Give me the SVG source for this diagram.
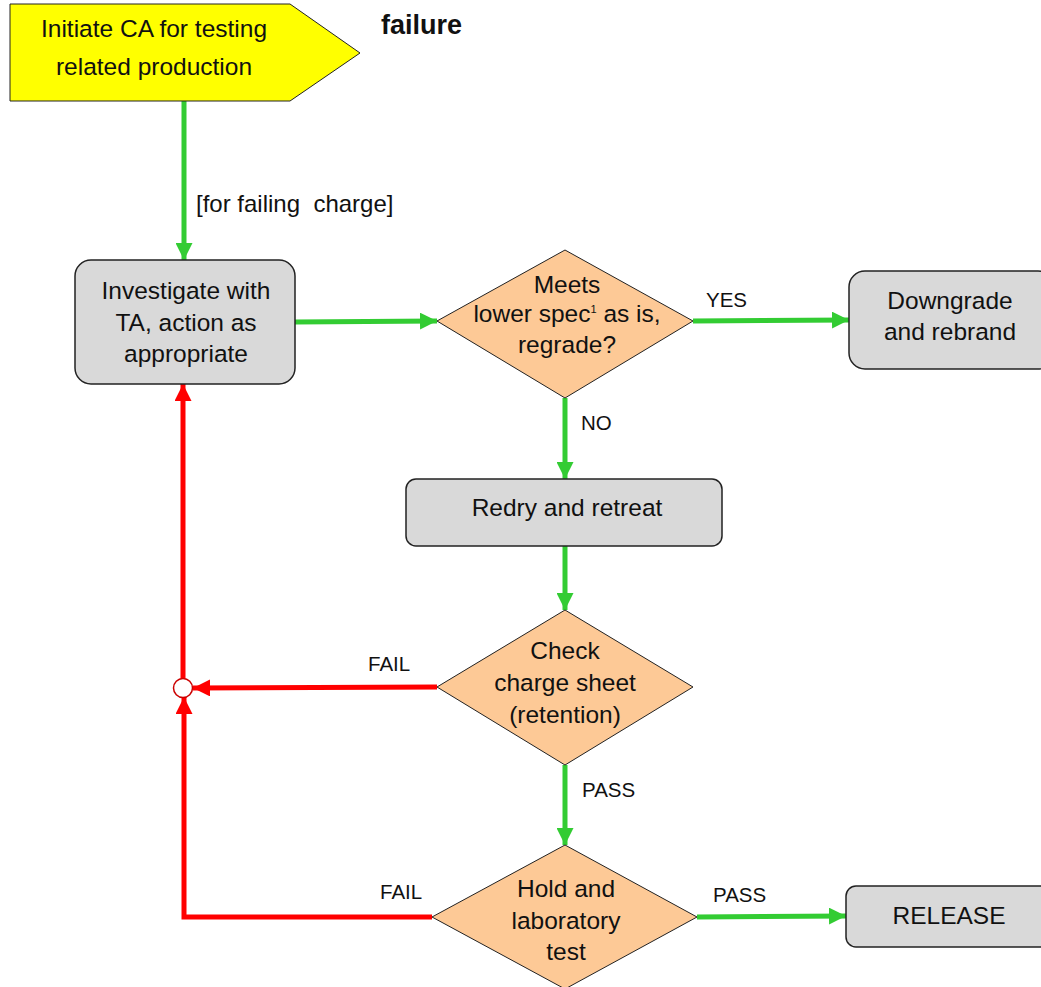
<svg xmlns="http://www.w3.org/2000/svg" width="1041" height="987" viewBox="0 0 1041 987">
  <style>
    .t { font-family: "Liberation Sans", Arial, sans-serif; font-size: 24.5px; fill: #111; text-anchor: middle; }
    .lbl { font-family: "Liberation Sans", Arial, sans-serif; font-size: 20.5px; fill: #111; }
    .box { fill: #d9d9d9; stroke: #222; stroke-width: 1.5; }
    .dia { fill: #fdc996; stroke: #222; stroke-width: 1; }
    .go { fill: none; stroke: #33cc33; stroke-width: 5; }
    .back { fill: none; stroke: #ff0000; stroke-width: 5; }
  </style>
  <defs>
    <marker id="ag" viewBox="0 0 10 10" refX="10" refY="5" markerWidth="3.4" markerHeight="3.4" orient="auto" markerUnits="strokeWidth">
      <path d="M0,0 L10,5 L0,10 z" fill="#33cc33"/>
    </marker>
    <marker id="ar" viewBox="0 0 10 10" refX="10" refY="5" markerWidth="3.4" markerHeight="3.4" orient="auto" markerUnits="strokeWidth">
      <path d="M0,0 L10,5 L0,10 z" fill="#ff0000"/>
    </marker>
  </defs>

  <rect width="1041" height="987" fill="#ffffff"/>

  <!-- connectors -->
  <g id="connectors">
    <line class="go" x1="184" y1="101" x2="184" y2="260" marker-end="url(#ag)"/>
    <line class="go" x1="295" y1="322" x2="437" y2="321" marker-end="url(#ag)"/>
    <line class="go" x1="693" y1="321" x2="849" y2="320" marker-end="url(#ag)"/>
    <line class="go" x1="565" y1="398" x2="565" y2="479" marker-end="url(#ag)"/>
    <line class="go" x1="565" y1="546" x2="565" y2="610" marker-end="url(#ag)"/>
    <line class="go" x1="565" y1="765" x2="565" y2="845" marker-end="url(#ag)"/>
    <line class="go" x1="697" y1="917" x2="846" y2="916" marker-end="url(#ag)"/>
    <line class="back" x1="437" y1="687" x2="193" y2="688" marker-end="url(#ar)"/>
    <line class="back" x1="183" y1="679" x2="183" y2="384" marker-end="url(#ar)"/>
    <polyline class="back" points="432,917 184,917 184,697" marker-end="url(#ar)"/>
    <circle cx="183" cy="688" r="9.5" fill="#ffffff" stroke="#cc0000" stroke-width="1.5"/>
    <text class="lbl" x="196" y="212" style="font-size:24px; white-space:pre">[for failing  charge]</text>
    <text class="lbl" x="706" y="307">YES</text>
    <text class="lbl" x="581" y="430">NO</text>
    <text class="lbl" x="368" y="671">FAIL</text>
    <text class="lbl" x="582" y="797">PASS</text>
    <text class="lbl" x="380" y="899">FAIL</text>
    <text class="lbl" x="713" y="902">PASS</text>
  </g>

  <g id="start">
    <polygon points="10,4 290,4 360,53 290,101 10,101" fill="#ffff00" stroke="#222" stroke-width="1"/>
    <text class="t" x="154" y="37">Initiate CA for testing</text>
    <text class="t" x="154" y="75">related production</text>
  </g>
  <text x="381" y="34" style="font-family:'Liberation Sans', Arial, sans-serif; font-size:27px; font-weight:bold; fill:#111">failure</text>

  <g id="investigate">
    <rect class="box" x="75" y="260" width="220" height="124" rx="16"/>
    <text class="t" x="186" y="299">Investigate with</text>
    <text class="t" x="186" y="331">TA, action as</text>
    <text class="t" x="186" y="362">appropriate</text>
  </g>

  <g id="meets-lower-spec">
    <polygon class="dia" points="565,250 693,321 565,398 437,321"/>
    <text class="t" x="567" y="293">Meets</text>
    <text class="t" x="567" y="322">lower spec<tspan dy="-9" style="font-size:11px">1</tspan><tspan dy="9"> as is,</tspan></text>
    <text class="t" x="567" y="353">regrade?</text>
  </g>

  <g id="downgrade">
    <rect class="box" x="849" y="271" width="205" height="98" rx="16"/>
    <text class="t" x="950" y="309">Downgrade</text>
    <text class="t" x="950" y="340">and rebrand</text>
  </g>

  <g id="redry">
    <rect class="box" x="406" y="479" width="316" height="67" rx="10"/>
    <text class="t" x="567" y="516">Redry and retreat</text>
  </g>

  <g id="check-charge-sheet">
    <polygon class="dia" points="565,610 693,687 565,765 437,687"/>
    <text class="t" x="565" y="659">Check</text>
    <text class="t" x="565" y="691">charge sheet</text>
    <text class="t" x="565" y="723">(retention)</text>
  </g>

  <g id="hold-and-test">
    <polygon class="dia" points="565,845 697,917 565,989 432,917"/>
    <text class="t" x="566" y="897">Hold and</text>
    <text class="t" x="566" y="929">laboratory</text>
    <text class="t" x="566" y="960">test</text>
  </g>

  <g id="release">
    <rect class="box" x="846" y="886" width="205" height="61" rx="10"/>
    <text class="t" x="949" y="924">RELEASE</text>
  </g>
</svg>
